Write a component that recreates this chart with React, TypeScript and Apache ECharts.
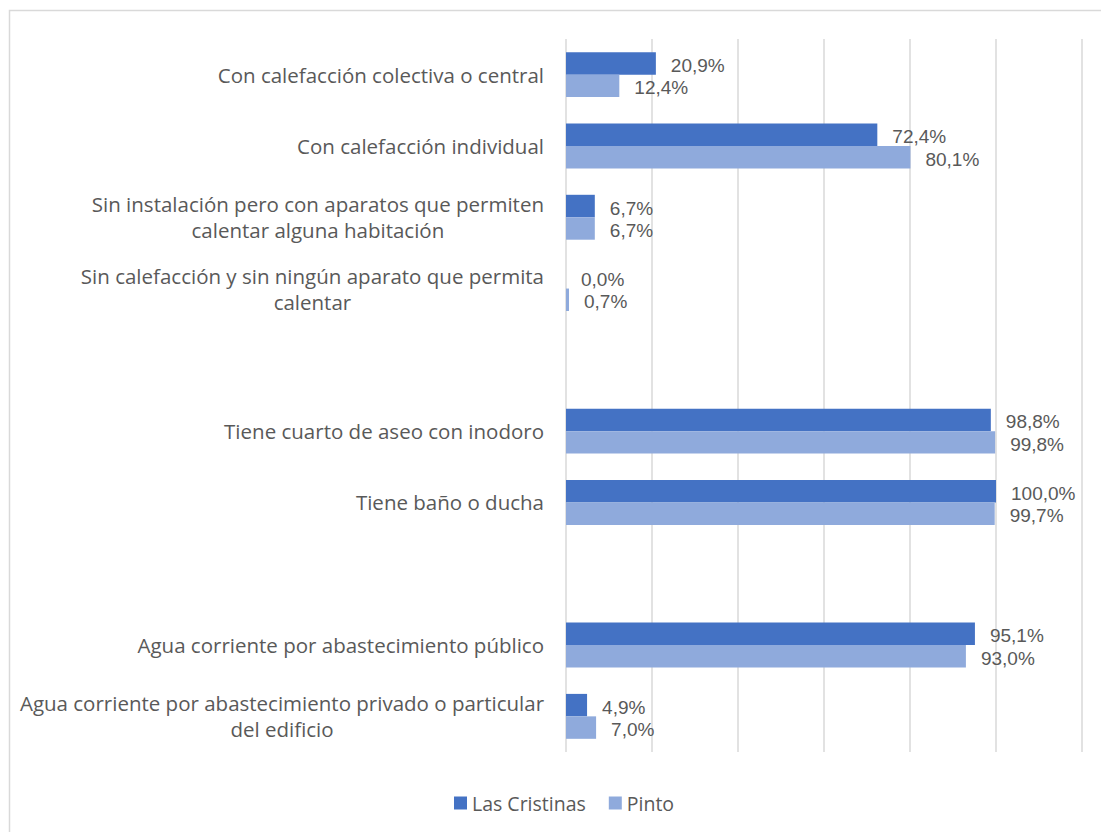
import React, { useEffect, useRef } from "react";
import * as echarts from "echarts";

const categories: string[] = [
  "Con calefacción colectiva o central",
  "Con calefacción individual",
  "Sin instalación pero con aparatos que permiten\ncalentar alguna habitación",
  "Sin calefacción y sin ningún aparato que permita\ncalentar",
  "",
  "Tiene cuarto de aseo con inodoro",
  "Tiene baño o ducha",
  " ",
  "Agua corriente por abastecimiento público",
  "Agua corriente por abastecimiento privado o particular\ndel edificio",
];

const lasCristinas: (number | null)[] = [20.9, 72.4, 6.7, 0.0, null, 98.8, 100.0, null, 95.1, 4.9];
const pinto: (number | null)[] = [12.4, 80.1, 6.7, 0.7, null, 99.8, 99.7, null, 93.0, 7.0];

const seriesNames = ["Las Cristinas", "Pinto"];
const colors = ["#4472C4", "#8FAADC"];

const FONT = "'Open Sans', 'Noto Sans', sans-serif";
const LABEL_FONT = "'Liberation Sans', Arial, sans-serif";
const TEXT = "#595959";

export default function App() {
  const ref = useRef<HTMLDivElement>(null);
  useEffect(() => {
    if (!ref.current) return;
    const chart = echarts.init(ref.current, undefined, { renderer: "svg" });
    const fmt = (p: any) => {
      const v = Array.isArray(p.value) ? p.value[0] : p.value;
      if (v === null || v === undefined || v === "-") return "";
      return Number(v).toFixed(1).replace(".", ",") + "%";
    };
    const mkSeries = (name: string, data: (number | null)[], color: string) => ({
      name,
      type: "bar",
      data,
      barGap: "0%",
      barCategoryGap: "37%",
      itemStyle: { color },
      label: {
        show: true,
        position: "right",
        distance: 15,
        offset: [0, 2],
        color: TEXT,
        fontSize: 19,
        lineHeight: 20,
        fontFamily: LABEL_FONT,
        formatter: fmt,
      },
    });
    chart.setOption({
      animation: false,
      backgroundColor: "#ffffff",
      textStyle: { fontFamily: FONT },
      graphic: [
        {
          type: "rect",
          shape: { x: 9.5, y: 10.5, width: 1200, height: 1000 },
          style: { fill: "none", stroke: "#D9D9D9", lineWidth: 1.5 },
          silent: true,
          z: -10,
        },
      ],
      grid: { left: 566, right: 19, top: 39, bottom: 80 },
      xAxis: {
        type: "value",
        min: 0,
        max: 120,
        interval: 20,
        axisLabel: { show: false },
        axisLine: { show: false },
        axisTick: { show: false },
        splitLine: { show: true, lineStyle: { color: "#D9D9D9", width: 1.5 } },
      },
      yAxis: {
        type: "category",
        inverse: true,
        data: categories,
        axisLine: { show: false },
        axisTick: { show: false },
        axisLabel: {
          margin: 22,
          color: TEXT,
          fontSize: 20.5,
          fontFamily: FONT,
          lineHeight: 26,
          formatter: (v: string) =>
            v
              .split("\n")
              .map((l) => "{c|" + l + "}")
              .join("\n"),
          rich: {
            c: { align: "center", color: TEXT, fontSize: 20.5, fontFamily: FONT, lineHeight: 26 },
          },
        },
      },
      legend: {
        data: seriesNames,
        left: 454,
        top: 793,
        padding: 0,
        itemWidth: 13,
        itemHeight: 13,
        itemGap: 23,
        icon: "rect",
        textStyle: { color: TEXT, fontSize: 19.5, fontFamily: FONT },
      },
      series: [
        mkSeries(seriesNames[0], lasCristinas, colors[0]),
        mkSeries(seriesNames[1], pinto, colors[1]),
      ],
    });
    return () => chart.dispose();
  }, []);
  return (
    <div
      ref={ref}
      style={{ position: "absolute", left: 0, top: 0, width: 1101, height: 832 }}
    />
  );
}
